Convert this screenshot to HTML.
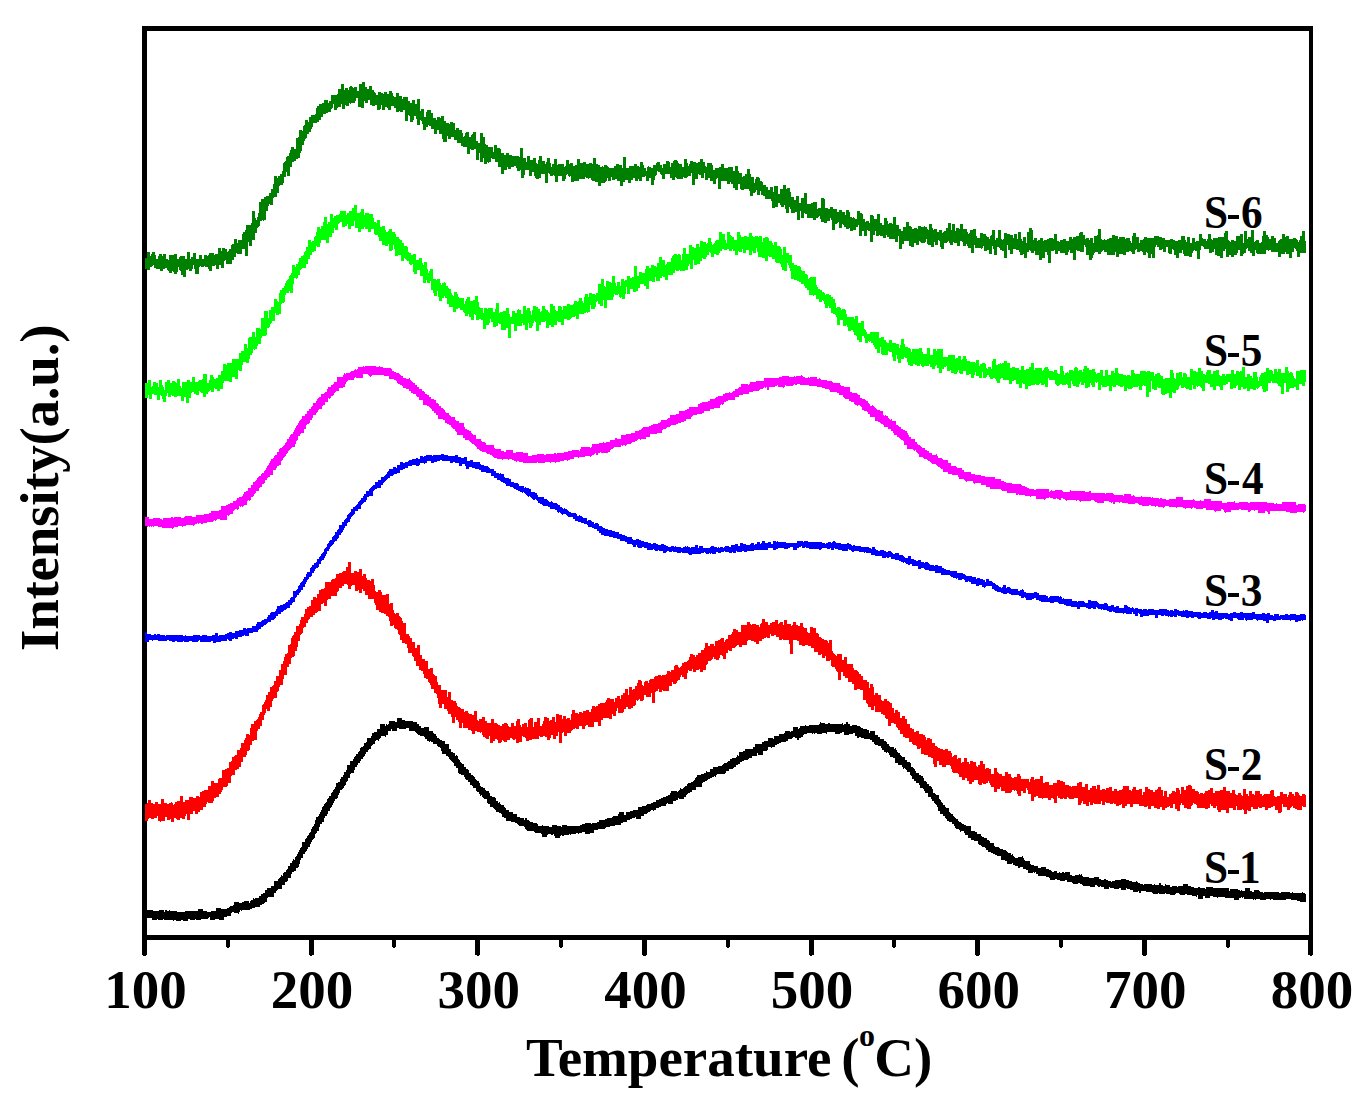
<!DOCTYPE html>
<html><head><meta charset="utf-8"><style>
html,body{margin:0;padding:0;background:#fff;}
body{width:1367px;height:1105px;overflow:hidden;position:relative;}
svg{position:absolute;left:0;top:0;}
text{font-family:"Liberation Serif",serif;font-weight:bold;fill:#000;}
</style></head><body>
<svg width="1367" height="1105" viewBox="0 0 1367 1105" shape-rendering="crispEdges">
<g fill="#000">
<rect x="142" y="26" width="1171" height="5"/>
<rect x="142" y="935" width="1171" height="5"/>
<rect x="142" y="26" width="5" height="914"/>
<rect x="1309" y="26" width="4" height="914"/>
<path d="M142.00 938V954.5L144.50 956.5L147.00 954.5V938z"/>
<path d="M225.82 938V946.5L227.82 948.5L229.82 946.5V938z"/>
<path d="M308.64 938V954.5L311.14 956.5L313.64 954.5V938z"/>
<path d="M392.46 938V946.5L394.46 948.5L396.46 946.5V938z"/>
<path d="M475.28 938V954.5L477.78 956.5L480.28 954.5V938z"/>
<path d="M559.10 938V946.5L561.10 948.5L563.10 946.5V938z"/>
<path d="M641.92 938V954.5L644.42 956.5L646.92 954.5V938z"/>
<path d="M725.74 938V946.5L727.74 948.5L729.74 946.5V938z"/>
<path d="M808.56 938V954.5L811.06 956.5L813.56 954.5V938z"/>
<path d="M892.38 938V946.5L894.38 948.5L896.38 946.5V938z"/>
<path d="M975.20 938V954.5L977.70 956.5L980.20 954.5V938z"/>
<path d="M1059.02 938V946.5L1061.02 948.5L1063.02 946.5V938z"/>
<path d="M1141.84 938V954.5L1144.34 956.5L1146.84 954.5V938z"/>
<path d="M1225.66 938V946.5L1227.66 948.5L1229.66 946.5V938z"/>
<path d="M1308.48 938V954.5L1310.98 956.5L1313.48 954.5V938z"/>
</g>
<g>
<path fill="#008000" d="M145 258h2v-6h3v4h1v-2h1v-2h3v3h1v4h2v-3h1v-2h3v2h1v-2h3v5h2v1h1v-5h5v-1h3v5h2v-2h1v-1h5v3h2v-7h3v7h1v-2h2v-4h3v6h3v-4h3v4h2v-4h3v1h1v-1h1v-2h5v2h1v-1h3v-6h3v3h1v-3h3v1h2v3h1v-1h1v-2h2v-4h1v-1h2v-5h3v4h1v-3h4v-6h1v-2h2v-2h1v-5h5v-2h1v-12h3v7h1v2h1v-3h1v-4h1v-11h2v-3h3v-2h2v-1h3v-3h2v-4h2v-5h1v-8h3v2h1v-2h2v-2h2v-3h1v-8h1v-1h1v-1h1v-4h1v-1h2v-3h1v-3h1v-3h3v2h2v-11h2v-1h1v-7h3v1h1v-5h1v-1h1v-5h3v2h1v-5h2v-2h4v-1h1v-6h1v-2h2v-2h3v-1h2v-3h4v3h1v-2h2v-6h6v-1h1v-5h3v-5h3v6h1v-2h3v2h1v-3h1v-1h2v1h1v1h1v-1h3v4h2v-7h3v-2h3v5h2v2h2v-3h3v4h2v2h1v1h1v2h2v-3h3v1h2v1h1v-2h3v2h2v-3h3v2h1v3h1v1h2v-4h3v3h3v3h1v-2h5v4h2v2h2v-3h3v4h2v-5h3v12h1v-2h3v8h2v-5h1v-2h4v3h2v5h3v2h1v-3h3v1h1v-2h3v5h2v2h3v1h1v-2h3v1h2v7h1v-2h3v2h3v3h1v4h1v-1h1v-3h1v-1h3v5h2v-2h1v-1h1v-2h3v9h2v2h2v-10h3v4h2v7h1v1h2v2h5v5h1v-7h3v3h3v1h1v4h3v2h2v-2h3v2h3v1h7v1h1v-9h3v10h3v4h1v-6h3v4h3v-2h3v5h1v1h1v-4h1v-4h3v5h3v3h1v-2h1v-4h3v5h1v4h1v-3h2v-5h3v6h1v-1h6v3h1v-1h1v-6h3v4h1v-1h3v3h2v-1h2v-6h3v4h3v-1h3v2h3v-1h3v1h1v-6h3v6h2v1h2v2h2v-1h1v1h1v-2h3v1h1v1h1v1h5v-2h2v-2h3v1h3v3h1v-11h3v11h3v-2h5v-2h3v2h2v1h1v-5h3v3h1v3h2v3h1v-4h1v-1h1v1h2v1h2v-3h3v-2h1v-1h3v3h2v3h1v-4h3v-3h3v1h1v5h1v-4h2v-2h1v-1h3v1h1v2h1v1h3v3h2v-8h3v4h1v3h1v-2h1v-3h3v1h3v1h2v-1h2v-3h3v3h2v4h1v1h1v-4h5v2h1v5h2v-2h4v-1h2v-3h3v4h4v-1h5v4h2v-5h3v5h1v2h3v4h1v-1h2v-2h2v-5h3v5h1v3h3v6h1v-4h1v-2h3v1h1v3h2v1h1v3h3v2h2v3h2v-3h3v5h1v-6h4v8h2v-5h3v-4h3v4h1v-1h3v4h1v5h3v3h2v-4h3v7h2v-5h3v-5h3v11h4v-1h2v-1h4v7h1v-1h3v-10h3v1h1v9h3v1h2v-2h3v2h4v3h2v-2h3v2h3v3h1v-5h3v2h1v5h2v1h1v-1h1v1h1v1h2v-8h3v2h2v1h1v5h2v3h1v-1h3v2h1v-8h3v1h1v3h3v-5h3v9h2v2h2v-7h3v3h1v3h1v-1h3v1h1v-7h3v8h3v4h2v2h2v-4h3v-5h3v4h2v1h1v2h2v-1h3v1h1v-3h3v1h3v-1h1v1h2v2h1v1h1v-6h3v4h1v2h1v-1h3v3h2v-2h3v3h1v-1h1v-1h2v-3h2v-5h3v7h1v-6h3v7h1v-3h3v1h1v-5h3v5h4v3h1v2h1v-1h1v-3h3v-1h3v7h1v2h3v-5h3v1h3v2h1v1h2v2h1v-3h1v-1h1v-5h3v10h1v-2h2v-8h3v9h1v1h1v-1h1v-6h3v1h3v1h3v3h1v-4h3v5h1v-7h3v7h1v2h1v-4h3v6h1v-11h2v-4h3v2h1v10h1v-2h3v3h1v-1h2v-2h3v3h1v-1h3v-1h2v-1h4v1h1v-5h3v7h2v1h1v-2h3v-1h3v2h3v-4h3v2h1v-2h3v-1h3v-3h1v-1h3v3h2v4h1v-1h3v2h1v-2h3v5h1v-7h3v-1h1v-6h3v10h1v1h2v-1h1v1h2v-1h2v-1h3v-3h3v1h3v3h1v-2h6v2h1v-1h4v3h1v2h1v-7h1v-3h3v4h3v6h1v-3h3v-1h1v-2h3v1h7v-2h5v1h3v1h3v2h5v-1h3v1h2v1h3v-1h3v-4h4v4h1v2h1v-5h3v6h2v-5h3v4h1v-1h3v-7h3v4h1v1h3v2h1v-2h1v-5h3v5h1v1h1v-2h5v-1h6v-4h1v-2h3v9h1v1h1v1h1v-2h3v1h2v-5h4v-2h3v9h1v-12h3v8h1v-2h3v-7h3v12h1v-1h1v-1h3v3h2v-1h1v-6h1v-5h3v4h2v2h1v2h2v-3h3v2h2v5h2v-2h1v-1h1v-1h2v-5h3v3h1v-1h3v3h4v-1h3v1h1v1h1v2h1v-2h1v-4h2v-5h3v10h1v12h-6v4h-3v-6h-1v-2h-1v-1h-1v4h-2v6h-3v-4h-3v-2h-1v2h-4v3h-3v-5h-7v-2h-2v1h-1v-1h-2v4h-9v-1h-1v-3h-1v6h-3v-3h-2v-2h-2v-3h-1v1h-1v4h-2v1h-1v2h-3v-6h-2v3h-1v2h-3v2h-3v-2h-2v2h-3v-8h-1v2h-2v7h-3v-2h-3v-1h-2v-6h-1v3h-2v1h-3v-4h-5v-2h-1v-1h-2v4h-1v9h-3v-8h-2v-1h-1v1h-1v2h-1v4h-3v-1h-5v-2h-1v-4h-1v3h-3v5h-3v-3h-2v-5h-1v-1h-1v5h-3v-1h-1v-6h-2v5h-3v-3h-1v1h-3v-3h-2v-2h-1v2h-1v11h-3v-4h-1v4h-3v-5h-1v-1h-1v3h-3v-3h-1v-1h-2v1h-3v-3h-1v1h-1v4h-3v-2h-1v-1h-2v1h-3v3h-3v-1h-4v3h-3v-5h-1v3h-8v-3h-3v-2h-1v1h-1v1h-1v2h-3v-2h-3v1h-1v2h-1v3h-1v2h-3v-5h-3v-8h-1v-2h-1v7h-4v-1h-3v-1h-1v10h-3v-7h-3v-3h-1v2h-1v3h-3v-2h-5v-2h-2v3h-3v-4h-1v1h-3v12h-3v-8h-1v-3h-2v6h-3v2h-3v-5h-4v-4h-1v2h-3v-2h-1v-1h-1v2h-2v6h-3v-4h-1v1h-3v-3h-1v-2h-3v-1h-3v5h-3v-4h-2v-5h-1v13h-3v-7h-2v-1h-2v-2h-1v-1h-2v8h-3v-6h-1v-3h-1v8h-3v-4h-2v1h-3v-5h-1v2h-1v1h-1v-1h-6v-3h-1v8h-3v-5h-3v-2h-1v-2h-1v2h-3v-4h-1v-1h-2v5h-3v-3h-3v-1h-1v3h-3v-2h-1v-2h-1v1h-1v1h-3v6h-3v-2h-1v-6h-1v-1h-1v5h-3v-3h-1v5h-3v-2h-3v-1h-1v-5h-1v3h-1v1h-4v-1h-1v-1h-1v4h-3v-2h-2v4h-3v-1h-2v-5h-5v3h-2v5h-3v-13h-1v6h-3v-3h-6v-2h-2v-2h-1v3h-3v-2h-3v-1h-1v1h-3v-5h-1v4h-2v7h-3v-11h-2v-1h-1v6h-3v-5h-2v5h-3v-11h-1v2h-2v3h-3v1h-3v-3h-1v1h-3v-2h-2v-2h-1v-1h-1v4h-3v-6h-1v1h-1v1h-2v6h-3v-10h-1v-2h-1v3h-3v2h-3v-1h-3v-3h-1v-3h-1v1h-1v1h-2v2h-3v-2h-6v-4h-2v-1h-1v5h-3v-7h-1v9h-3v-8h-2v1h-4v-4h-1v-2h-1v6h-3v-4h-1v-4h-1v2h-3v-2h-1v-2h-2v4h-3v1h-3v-7h-1v-2h-6v-3h-2v-1h-2v-4h-1v4h-3v-5h-1v2h-1v1h-2v3h-3v-5h-1v-2h-5v1h-3v-1h-1v-5h-2v6h-3v-2h-2v-4h-2v-2h-1v2h-3v-3h-6v8h-3v-11h-1v1h-1v5h-3v-3h-3v-3h-2v2h-3v-7h-1v5h-3v-3h-2v-1h-1v5h-3v6h-3v-12h-1v3h-3v1h-1v1h-3v-1h-1v2h-6v-1h-1v-1h-1v3h-3v-2h-2v-4h-5v5h-3v-4h-1v-1h-1v-2h-2v-1h-1v4h-1v1h-1v4h-1v5h-3v-7h-2v3h-3v-5h-1v1h-3v4h-3v-2h-1v2h-3v-3h-2v2h-2v3h-3v-3h-3v2h-2v4h-3v-5h-3v-2h-2v1h-3v-3h-1v4h-3v-3h-1v3h-1v1h-1v1h-4v3h-3v-4h-3v-1h-3v-1h-1v-2h-2v1h-1v-1h-2v-1h-1v2h-6v2h-5v1h-3v-6h-1v1h-1v-1h-1v-2h-1v1h-1v4h-1v2h-3v-5h-4v6h-3v-6h-1v-1h-1v1h-3v-2h-1v-1h-1v10h-3v-9h-4v4h-2v1h-3v-1h-1v-2h-1v-4h-2v4h-3v-6h-4v5h-1v3h-3v-8h-1v1h-3v-3h-1v-2h-2v1h-3v2h-3v-2h-1v3h-3v4h-3v-7h-3v-5h-3v-3h-3v-1h-1v4h-2v1h-1v-1h-1v2h-3v-6h-1v4h-3v-9h-1v7h-3v-11h-2v1h-3v-1h-1v5h-3v-7h-4v-1h-2v-3h-4v-3h-3v-3h-3v2h-3v-3h-1v6h-4v-3h-1v-5h-3v-4h-2v4h-3v-5h-3v-3h-2v-1h-1v2h-2v3h-3v-6h-1v-3h-1v-1h-1v5h-3v-6h-1v-3h-2v4h-1v2h-3v-6h-1v-1h-1v6h-3v-11h-2v2h-3v-1h-1v1h-3v-4h-2v-2h-3v4h-3v-2h-1v-1h-2v3h-3v-5h-1v4h-1v1h-3v-5h-2v1h-3v-1h-2v-5h-2v3h-3v-2h-1v7h-3v-1h-3v-9h-2v3h-1v2h-4v1h-1v-1h-1v3h-3v-1h-1v4h-3v-5h-1v3h-3v1h-1v2h-3v-6h-1v4h-1v1h-1v3h-3v1h-2v1h-3v3h-2v3h-2v2h-2v1h-4v4h-1v2h-1v3h-2v2h-2v4h-1v1h-1v2h-1v4h-2v6h-1v2h-1v5h-2v1h-2v2h-2v1h-2v5h-2v9h-3v-4h-1v5h-2v6h-1v2h-3v1h-1v7h-2v4h-3v1h-1v7h-3v-1h-1v2h-1v5h-2v9h-2v1h-1v-1h-1v1h-2v5h-1v1h-1v1h-1v5h-2v7h-3v6h-3v-4h-1v14h-3v-7h-3v5h-5v-1h-1v4h-2v3h-2v4h-6v-4h-1v1h-1v7h-3v-3h-2v4h-3v-4h-1v1h-3v5h-3v-2h-1v-2h-3v-1h-1v1h-3v-1h-1v1h-1v7h-4v-5h-1v-4h-1v4h-1v2h-3v-2h-1v1h-2v7h-3v-2h-2v-4h-1v-1h-1v-3h-1v5h-1v2h-3v-2h-1v-1h-1v2h-3v-2h-1v-1h-1v-2h-2v1h-2v2h-3v-2h-4v-1h-2v-3h-1v1h-1v1h-2v3h-3v-1h-2z"/>
<path fill="#00ff00" d="M145 383h3v-3h3v7h1v-1h1v-4h3v1h2v4h1v-7h3v5h1v2h1v3h1v-8h2v-2h3v3h2v-2h3v1h1v1h1v-4h3v7h1v2h1v-6h5v-2h3v2h2v-5h3v5h3v-1h1v-1h3v-1h1v-5h4v9h2v-3h1v-5h3v2h1v2h2v-1h2v-3h3v-4h2v-7h3v1h1v-2h5v-4h7v-6h2v-2h3v-7h3v4h1v-10h1v-1h3v-5h3v5h1v-9h4v1h1v-11h3v-7h4v7h1v-8h2v-3h3v-8h3v2h1v1h1v-9h1v-3h2v-2h2v-2h1v-3h1v-2h1v-1h1v-1h1v-3h1v-1h1v-2h1v-8h3v2h1v-3h2v-2h1v-4h2v-2h2v-1h1v-3h1v-1h1v-4h2v-7h3v2h1v-1h2v-4h1v-1h1v-4h1v-5h3v2h1v-3h2v-4h1v-5h3v7h1v-2h2v-8h3v4h1v-2h2v-1h3v-1h1v-3h6v4h1v-2h2v-2h3v-3h2v-3h3v8h3v-1h1v-3h3v6h1v-2h4v1h4v4h1v4h2v1h1v-3h3v7h2v-1h3v4h1v2h2v-1h1v-2h3v3h3v2h1v3h3v2h1v1h2v3h2v3h3v1h1v5h1v1h2v2h2v-1h3v6h3v-2h3v5h1v2h1v-3h3v7h1v4h1v-2h1v-2h3v10h3v1h1v-1h3v4h1v2h1v-2h2v-1h1v1h1v3h2v2h1v1h2v4h1v2h1v1h1v-4h3v2h1v3h1v1h5v6h1v-3h1v-2h1v-2h3v4h3v-1h2v-4h3v6h1v5h1v1h3v5h1v-5h3v1h1v-1h5v4h2v-3h1v-6h3v10h1v-1h3v-1h3v-3h3v6h1v3h2v-6h3v2h2v-3h1v-1h1v1h2v4h2v-8h3v4h1v-2h3v3h1v4h1v-5h1v-4h3v1h2v2h2v3h1v-1h1v-5h3v3h1v1h2v2h1v1h1v-9h3v2h2v4h1v1h2v-5h3v1h1v3h1v-4h4v-2h3v1h3v-1h1v-3h3v1h1v-1h1v-3h3v3h1v2h1v-6h1v-3h3v3h1v-4h3v1h3v1h1v-2h2v-9h3v-5h3v7h1v1h1v-6h3v1h2v1h1v-7h3v7h1v3h1v-4h3v4h1v-7h3v2h1v-1h2v-4h3v2h2v-1h2v-11h3v10h2v-4h3v1h3v-4h1v-3h3v2h2v-3h3v1h2v1h1v-4h2v-6h3v3h3v5h1v-1h1v-2h4v-4h1v-2h1v-1h1v-1h3v1h1v-1h2v1h1v5h1v-6h1v-6h3v6h3v-9h3v2h2v1h2v-4h3v3h1v-6h3v1h3v2h1v-1h1v-5h3v4h1v3h1v-1h1v-1h1v-2h1v-1h3v-8h3v2h3v6h1v3h1v-11h3v3h1v1h1v1h2v3h3v-8h3v3h1v2h3v-1h3v1h2v-4h3v3h1v1h2v-1h3v1h1v-1h3v6h1v-4h2v-1h3v1h1v3h3v2h1v2h1v-3h3v4h3v1h1v2h1v6h1v-8h3v6h3v2h3v8h2v2h3v1h3v1h1v3h1v1h3v3h2v1h1v4h1v-1h1v-1h6v8h1v2h1v2h2v1h2v2h2v1h1v2h1v-1h3v1h2v2h2v2h2v4h1v5h1v-1h3v1h1v2h1v-1h3v1h1v4h1v3h7v2h1v-3h3v7h3v-2h3v8h1v1h1v2h1v2h3v-2h9v6h2v-1h3v3h2v2h1v1h2v-3h3v3h4v1h3v4h1v-3h1v-6h3v5h1v3h3v1h2v1h1v3h1v-3h7v-1h3v4h1v2h4v-6h3v7h3v-6h3v2h1v-2h6v8h5v-2h7v4h1v-1h2v-2h3v4h1v-1h1v-3h3v3h1v2h3v1h5v1h1v-3h3v6h1v-2h2v-1h3v1h1v4h1v1h1v-2h3v2h1v-8h1v-2h3v6h2v-1h2v-1h1v1h1v-1h2v-2h3v2h3v5h2v-1h3v1h4v2h2v-4h3v4h2v-1h3v-2h2v-4h3v7h1v-2h7v3h1v-1h1v-2h1v-1h3v2h1v2h4v1h1v-2h3v3h1v1h2v-8h3v5h1v4h1v-2h2v-1h1v1h1v-3h4v1h1v-3h1v-1h2v1h1v3h1v-1h3v2h1v-3h1v-3h3v2h2v2h3v-1h3v3h1v2h1v-1h3v-3h3v6h2v-6h3v5h3v-4h3v2h1v-5h3v5h1v1h4v1h3v1h1v-1h3v1h1v-6h3v3h1v1h5v-3h6v1h1v-1h3v1h4v4h1v-2h2v-1h3v2h1v1h2v3h2v-1h5v-8h3v3h1v5h1v1h1v-6h3v-1h3v5h1v-4h3v1h1v3h3v-8h3v2h3v1h2v-4h3v3h2v3h2v1h1v-3h1v-2h4v4h2v-3h3v-1h3v5h1v1h2v-2h3v2h1v-2h5v-4h3v4h2v-3h3v1h1v-1h2v-4h3v10h2v-3h3v2h2v2h1v-6h4v5h1v4h1v-4h1v-2h1v-2h3v-1h2v-4h3v2h3v1h1v3h1v-5h3v3h1v-3h3v4h4v-6h3v4h1v2h1v-1h2v1h1v3h1v2h1v1h1v-8h4v-1h6v12h-1v4h-3v-2h-3v6h-3v-3h-2v1h-4v1h-1v3h-3v-9h-2v11h-3v-7h-1v-1h-2v-2h-1v-1h-5v-2h-1v2h-3v8h-2v1h-3v-3h-1v-3h-2v1h-1v1h-1v1h-1v-1h-1v2h-3v-1h-3v2h-3v-3h-1v1h-3v-2h-2v3h-3v-5h-1v1h-1v2h-3v1h-3v-7h-2v2h-2v1h-3v5h-3v-3h-1v-1h-3v4h-3v-3h-3v-3h-2v-1h-3v8h-3v-3h-1v-1h-1v-1h-2v1h-1v-1h-1v3h-3v-4h-1v5h-3v-1h-3v-1h-1v-1h-1v1h-3v-3h-1v1h-1v3h-1v1h-2v3h-3v-1h-1v6h-3v-5h-2v1h-2v1h-3v-1h-1v-6h-3v-1h-1v3h-3v-1h-2v-8h-1v11h-2v5h-3v-11h-2v-1h-1v1h-1v4h-3v-4h-1v1h-5v1h-1v1h-4v-1h-1v3h-3v-5h-1v1h-3v-1h-2v-1h-2v2h-3v-1h-1v5h-3v-5h-2v1h-5v-2h-1v5h-3v-8h-1v1h-1v-1h-1v5h-3v-2h-1v-2h-1v4h-2v1h-3v-5h-1v2h-3v-3h-1v2h-1v3h-3v-1h-3v-2h-1v-3h-1v7h-3v-3h-1v-1h-1v1h-4v-1h-2v1h-1v1h-2v-1h-1v-1h-1v-4h-6v-2h-1v9h-3v-3h-1v1h-3v-2h-1v1h-1v1h-3v-1h-1v1h-4v1h-3v3h-3v-5h-2v-1h-1v5h-3v-4h-3v-4h-2v1h-2v3h-3v-4h-6v-2h-2v1h-1v4h-3v-2h-1v-2h-1v-1h-2v1h-3v-2h-1v-2h-2v2h-1v1h-3v-6h-1v6h-3v-2h-3v-4h-1v3h-1v3h-3v-4h-2v1h-3v-4h-3v3h-3v-1h-1v-3h-1v2h-1v2h-3v-1h-3v-3h-1v1h-3v-5h-1v1h-2v2h-2v4h-3v-5h-2v-3h-1v1h-1v3h-3v-2h-2v-3h-1v2h-5v1h-2v-1h-1v-2h-1v2h-3v-1h-2v-1h-2v2h-3v-1h-2v-3h-1v-4h-2v-1h-1v2h-3v4h-3v-4h-1v-4h-1v6h-3v-4h-1v-5h-3v-1h-1v4h-6v-1h-1v-7h-1v6h-3v-4h-2v-2h-1v-2h-1v-2h-2v-2h-1v1h-1v-1h-1v2h-3v-5h-1v-2h-2v6h-3v-2h-2v-4h-1v-1h-2v-3h-1v-2h-2v1h-3v-4h-1v-2h-1v1h-3v-6h-3v5h-3v-8h-1v-2h-1v-1h-2v-1h-2v-5h-2v-2h-1v2h-3v-4h-1v-3h-1v-1h-1v2h-3v-3h-3v-4h-2v1h-1v-1h-4v-5h-2v-2h-2v-2h-1v-2h-3v-2h-2v-1h-2v-1h-3v-1h-3v-8h-1v-3h-1v-3h-1v-2h-1v8h-3v-1h-2v-3h-1v-3h-1v-1h-4v-1h-1v-3h-3v-2h-3v-1h-1v5h-3v-3h-3v-1h-4v-5h-1v-4h-1v5h-3v-2h-1v4h-3v-5h-3v3h-3v-4h-1v3h-3v-1h-1v4h-3v-4h-2v-2h-1v2h-3v-2h-2v1h-3v-1h-2v2h-2v2h-1v2h-3v-1h-2v3h-3v-4h-1v-1h-1v3h-2v2h-1v2h-3v-1h-1v3h-2v3h-3v1h-3v-5h-1v9h-3v-5h-1v2h-1v4h-3v1h-5v-1h-1v1h-3v-1h-1v3h-2v2h-5v5h-3v-3h-2v-1h-1v2h-2v3h-4v-4h-1v5h-3v-1h-3v8h-3v-3h-2v-2h-4v4h-2v3h-2v1h-3v-3h-3v5h-3v-7h-1v7h-1v5h-3v-2h-1v1h-1v-1h-1v-3h-1v1h-3v-1h-1v3h-1v3h-6v8h-3v-8h-1v6h-3v-2h-2v-3h-1v1h-1v5h-1v2h-4v-4h-1v7h-2v1h-1v-1h-1v1h-2v1h-5v5h-3v-3h-1v1h-3v1h-1v1h-1v1h-3v-1h-3v6h-3v-3h-3v-1h-1v4h-3v2h-3v-2h-2v3h-3v-7h-1v1h-4v3h-2v6h-3v-9h-1v-1h-1v2h-1v3h-1v2h-3v-5h-1v7h-3v-5h-2v-2h-1v3h-5v5h-3v-7h-3v14h-3v-10h-2v2h-5v-6h-2v-1h-1v3h-2v1h-3v-5h-2v-3h-1v4h-1v2h-3v4h-3v-9h-2v-1h-2v1h-3v-5h-1v-1h-1v6h-3v-3h-2v-3h-1v2h-3v-3h-1v-1h-1v-2h-3v-2h-2v1h-2v3h-3v-5h-4v-3h-2v-6h-2v-2h-1v2h-2v3h-3v-4h-1v-6h-1v5h-3v-3h-1v-3h-2v-9h-1v2h-3v-3h-1v3h-3v-7h-3v-6h-3v4h-3v-2h-1v-8h-1v1h-2v-1h-1v-3h-2v-1h-1v-1h-1v-1h-1v3h-3v-6h-3v1h-3v-7h-1v-4h-1v5h-1v1h-3v-7h-1v2h-3v-1h-3v-4h-3v-4h-1v-2h-3v-1h-1v-5h-3v3h-3v-3h-3v-2h-1v2h-3v3h-3v-4h-3v-7h-1v5h-3v3h-3v-5h-1v2h-2v1h-3v-5h-2v1h-1v1h-1v6h-3v-2h-1v5h-2v4h-3v6h-3v-3h-5v3h-1v4h-3v-1h-1v5h-2v1h-2v3h-2v4h-2v5h-2v4h-4v1h-1v1h-1v5h-2v3h-1v1h-1v-1h-2v6h-1v9h-3v-2h-1v2h-3v2h-1v7h-1v1h-2v1h-1v10h-2v1h-3v-2h-1v8h-3v2h-1v1h-1v3h-1v1h-2v7h-1v1h-4v2h-1v6h-3v2h-1v3h-2v1h-1v-1h-1v4h-1v2h-2v4h-1v4h-3v-1h-3v3h-1v6h-3v-1h-1v9h-3v-2h-3v5h-3v-1h-5v2h-1v6h-3v2h-3v-2h-2v-1h-1v4h-3v-2h-1v1h-1v1h-1v2h-2v3h-3v-4h-2v-1h-1v-1h-1v4h-3v-1h-2v-2h-2v1h-1v5h-2v5h-3v-6h-2v4h-3v-5h-4v1h-3v-1h-2v-1h-1v2h-3v-4h-1v3h-1v6h-3v-3h-1v-3h-1v-1h-1v5h-3v-5h-3v-1h-2v5h-3v-4h-1v3h-3z"/>
<path fill="#ff00ff" d="M145 517h4v2h4v-1h7v1h2v1h1v-2h8v-1h2v1h1v-1h7v1h3v-1h1v-1h7v1h4v-2h8v-1h5v-1h2v-2h8v-1h2v-4h5v-1h2v-1h2v-1h3v-2h3v-1h1v-2h2v-1h3v-1h1v-2h1v-2h2v-1h2v-3h3v-3h2v-3h2v-1h1v-1h1v-2h1v-1h1v-1h2v-2h1v-1h2v-2h1v-1h1v-2h1v-2h1v-1h1v-2h1v-2h1v-2h2v-1h1v-2h1v-1h2v-3h2v-3h1v-1h2v-1h1v-1h1v-1h1v-2h1v-1h1v-3h2v-2h1v-2h1v-1h2v-2h1v-2h1v-2h1v-2h1v-1h1v-2h1v-2h1v-1h1v-1h1v-3h3v-2h2v-3h2v-2h2v-2h1v-1h1v-3h3v-2h1v-2h1v-1h1v-1h2v-3h3v-1h1v-1h2v-3h1v-2h3v-2h2v-1h1v-2h3v-5h6v-2h1v-2h1v1h1v-1h4v-1h1v-1h3v-1h1v-1h1v1h1v-1h1v-2h5v-1h1v1h1v-1h11v1h3v-1h1v1h3v1h8v1h1v2h2v1h2v1h3v1h1v1h1v1h2v2h3v1h3v-1h1v2h1v1h1v1h1v1h2v2h2v2h2v2h3v2h2v1h1v2h2v1h2v2h2v2h3v1h2v3h2v1h1v2h2v2h2v1h1v1h1v2h1v1h3v2h1v1h1v1h4v3h1v1h3v2h5v4h1v2h2v1h2v1h2v2h1v1h1v1h3v4h5v2h1v1h3v1h1v2h8v3h1v1h6v2h3v1h2v-2h7v3h3v-1h7v1h5v3h4v-1h5v-1h7v1h2v-1h8v-1h2v1h1v-1h7v-1h4v-1h4v-1h7v1h1v-2h1v-2h9v1h1v-1h1v-3h7v-1h4v-1h1v1h2v-1h4v-2h5v-2h2v1h4v-4h5v-1h5v-1h4v-2h4v-1h2v-1h1v-1h1v-1h6v-1h2v-1h2v-1h5v-1h2v-1h1v-2h6v-1h1v-1h2v-3h6v-1h3v-3h6v-1h2v-1h2v-2h9v-3h2v-1h2v-1h6v-1h2v-2h5v-1h1v-1h2v-1h5v-2h2v-1h4v-1h1v1h2v-1h1v-1h2v-2h3v-1h1v-1h2v-3h7v1h1v-1h1v-2h6v-1h8v-3h15v-1h3v-1h7v1h5v-1h1v1h1v-1h5v-1h1v1h1v1h2v1h3v-1h1v1h1v-1h7v2h2v-1h1v1h1v1h6v1h5v1h1v1h7v2h1v1h3v1h6v5h2v1h5v1h1v1h2v3h2v1h3v1h1v1h2v2h1v1h1v2h2v-1h1v1h1v1h1v1h1v1h1v1h3v1h3v4h1v1h1v-1h1v1h2v2h1v1h1v1h1v-1h1v2h4v4h2v1h1v1h2v2h2v1h2v1h2v2h1v2h1v2h2v2h4v3h2v2h1v1h2v1h1v1h1v1h3v2h2v1h2v2h3v2h4v-1h1v2h1v2h4v1h1v1h5v3h3v3h5v1h1v1h5v2h2v2h7v2h4v1h6v1h4v1h10v2h6v2h3v1h2v1h6v1h9v1h1v1h3v1h2v1h2v1h5v1h2v-1h13v3h1v-1h1v-1h1v1h3v-1h7v1h1v1h7v-2h1v1h14v1h4v-1h2v2h14v1h1v-1h7v1h1v1h9v1h1v-2h7v2h2v-1h1v1h1v1h6v-1h1v1h9v1h1v-1h1v1h6v1h1v-1h2v1h4v1h3v-1h7v-2h7v3h10v-1h1v1h1v1h5v-1h1v1h3v-2h7v2h11v2h5v-1h7v-1h1v2h4v-1h9v1h2v-1h17v1h7v1h2v-1h1v1h5v-2h14v3h2v-1h7v1h1v6h-1v1h-1v1h-1v-1h-6v1h-7v-1h-4v-1h-16v3h-2v-2h-1v-1h-2v2h-7v-3h-3v1h-1v-1h-3v1h-1v1h-2v-2h-7v-1h-2v1h-8v2h-5v1h-1v-1h-1v-2h-1v-1h-2v2h-5v1h-1v-1h-1v-1h-8v-2h-3v1h-7v-1h-2v-1h-1v1h-1v1h-1v-1h-5v1h-1v-1h-2v-1h-6v1h-1v-1h-7v-1h-4v1h-1v1h-1v-1h-5v-1h-2v1h-1v-1h-4v-1h-2v1h-7v-1h-3v-1h-1v-1h-3v1h-7v-1h-6v-1h-2v1h-1v-1h-4v2h-2v-2h-1v1h-1v-1h-2v-1h-5v2h-7v-1h-2v-1h-1v-1h-3v1h-10v1h-1v-1h-1v-1h-2v1h-1v-1h-9v1h-1v-1h-1v-1h-2v-1h-2v2h-2v-1h-2v-1h-1v1h-3v-1h-3v-1h-1v1h-3v1h-1v1h-1v-1h-8v-3h-5v1h-1v-1h-5v-1h-6v-1h-1v1h-2v-2h-9v-2h-5v-1h-1v-1h-11v-2h-4v-2h-5v-2h-6v1h-1v-1h-1v-2h-6v1h-1v-1h-1v-1h-1v-1h-5v-2h-1v-2h-6v-1h-4v-2h-5v-3h-2v-1h-1v-1h-2v-1h-1v-1h-1v-1h-4v-1h-1v-1h-1v-1h-2v-1h-1v-1h-3v-1h-1v-1h-4v-3h-1v-1h-1v-1h-1v-2h-1v1h-1v-1h-1v-1h-6v-4h-3v-4h-1v-1h-2v-1h-1v-1h-1v-1h-2v-2h-3v-2h-1v-2h-2v-2h-3v-2h-4v-2h-1v-1h-2v-1h-1v-1h-2v-1h-3v-4h-5v-3h-2v-2h-1v-1h-3v-1h-2v-3h-1v-1h-1v-1h-2v1h-1v-1h-2v-1h-1v-2h-3v-1h-2v-2h-4v-1h-1v-1h-1v-2h-4v-2h-2v-1h-7v-2h-1v-1h-4v-1h-3v-1h-5v-1h-8v-1h-9v-1h-3v1h-2v-1h-1v1h-1v1h-7v-1h-1v2h-1v1h-1v-1h-5v-2h-1v1h-2v1h-6v3h-2v-3h-1v1h-1v-1h-1v1h-1v1h-3v1h-1v1h-6v1h-4v2h-6v1h-4v2h-4v3h-7v1h-2v1h-2v2h-1v1h-1v-1h-1v1h-1v3h-6v1h-4v2h-6v2h-2v1h-5v1h-4v1h-1v1h-1v2h-5v2h-2v1h-3v1h-3v1h-2v1h-5v1h-1v1h-3v1h-1v1h-3v1h-1v3h-5v1h-7v3h-4v2h-5v1h-1v-1h-2v1h-1v1h-2v1h-3v1h-1v1h-4v1h-1v1h-1v-1h-2v1h-1v-1h-1v2h-7v1h-1v1h-2v1h-1v2h-2v1h-7v-1h-1v1h-2v2h-2v-2h-1v1h-1v1h-2v1h-1v1h-1v-1h-5v1h-6v1h-1v-1h-4v2h-4v1h-2v1h-1v-1h-3v1h-4v1h-4v1h-1v-1h-4v1h-1v-1h-5v1h-7v-1h-1v1h-14v-1h-4v-1h-2v1h-1v-1h-2v-1h-2v-1h-3v1h-1v-1h-5v1h-1v-1h-5v-1h-3v-1h-1v-1h-1v-1h-2v-1h-3v-1h-1v-1h-4v-1h-2v-1h-1v-1h-2v-2h-1v-1h-1v-1h-1v-1h-2v-1h-1v-1h-1v-1h-1v-1h-4v-2h-2v-3h-6v-3h-1v-1h-1v-2h-2v-1h-1v-1h-1v-2h-2v-1h-2v-1h-2v-3h-2v-1h-5v-4h-2v-2h-2v-2h-2v-2h-1v-1h-1v-1h-1v-1h-2v-1h-4v-5h-4v-3h-2v-1h-1v-2h-3v-1h-2v-2h-2v-2h-3v-1h-3v-2h-1v-1h-2v-1h-2v-1h-1v-2h-1v-1h-2v-1h-5v-3h-5v-1h-12v1h-1v1h-1v-1h-1v-1h-1v-1h-5v4h-7v-1h-1v1h-1v2h-6v1h-1v1h-1v2h-1v3h-2v1h-4v3h-3v1h-1v1h-1v2h-1v1h-2v2h-1v1h-1v-1h-1v4h-3v3h-2v1h-1v3h-3v1h-1v2h-1v1h-1v2h-3v3h-1v2h-2v3h-1v1h-2v1h-1v4h-2v4h-3v1h-1v2h-2v4h-1v1h-1v3h-1v3h-3v1h-1v1h-1v1h-1v1h-1v2h-1v1h-1v2h-1v1h-1v1h-1v2h-1v1h-1v4h-2v1h-2v2h-1v2h-3v5h-3v2h-2v1h-1v2h-2v3h-1v1h-2v3h-2v1h-1v3h-3v2h-1v1h-1v2h-1v1h-2v3h-1v1h-1v-1h-1v1h-1v4h-3v1h-1v1h-1v-1h-1v1h-1v-1h-1v3h-1v1h-1v-1h-2v1h-1v1h-1v3h-3v1h-1v1h-1v-1h-1v5h-7v-1h-3v1h-1v1h-1v-1h-1v1h-1v1h-6v1h-4v1h-2v-1h-2v1h-1v-1h-1v1h-2v1h-1v1h-1v-1h-7v1h-3v1h-1v-1h-4v1h-4v1h-1v1h-1v-1h-10v-1h-4v-1h-4v1h-1v-1h-1v1h-1v-1h-1v1h-1v-1h-1v1h-1v-1h-2z"/>
<path fill="#0000ff" d="M145 632h2v2h4v1h3v-1h2v1h1v-1h3v1h5v1h1v-1h17v1h2v-1h1v1h7v-1h7v1h2v-1h5v1h5v-1h3v-2h3v3h1v-1h6v-1h2v-1h2v-1h3v1h3v-2h4v-1h4v-2h3v1h1v-1h5v-2h4v-2h1v-2h4v-1h1v-1h2v-1h3v-2h1v-2h2v-2h1v-1h4v-1h1v-2h1v-3h3v-1h3v-1h2v-1h1v-1h2v-2h2v-2h1v-1h2v-6h3v-1h1v-1h1v-3h1v-1h1v-2h1v-1h1v-1h1v-2h1v-2h2v-3h1v-2h3v-4h1v-1h1v-2h2v-2h2v-1h1v-3h2v-2h1v-1h1v-2h1v-1h1v-1h1v-3h1v-1h1v-1h1v-3h1v-1h1v-2h1v-1h2v-3h1v-1h1v-1h1v-3h2v-2h1v-1h1v-4h3v-3h2v-2h1v-1h1v-1h1v-3h1v-1h1v-1h1v-1h1v-3h2v-2h2v-1h1v-1h1v-1h1v-2h1v-1h1v-1h1v-2h2v-2h1v-2h2v-3h3v-2h1v-1h1v-1h1v-1h1v-1h2v-3h3v-2h3v-3h3v-1h1v-1h1v-1h1v-2h1v-1h1v-2h4v-2h3v1h1v-3h3v-3h3v1h2v-1h3v-1h1v-1h3v-1h4v-1h2v1h2v-3h3v1h1v-1h2v-1h6v1h1v-1h8v-1h3v1h4v1h7v-1h3v2h3v1h3v-1h3v4h3v-1h3v2h7v2h1v1h3v1h4v1h1v1h1v1h4v2h2v2h3v1h1v-1h1v1h3v3h1v1h4v1h2v3h3v1h4v1h1v2h5v2h1v-1h1v1h3v1h2v3h4v1h2v2h1v2h6v2h3v1h1v1h1v1h2v-1h1v1h1v1h4v1h1v1h2v2h2v1h1v1h1v-1h1v1h2v1h1v1h1v1h2v1h5v1h1v2h2v-1h1v1h2v1h1v1h4v3h1v-1h3v1h1v1h2v2h1v-1h3v1h1v2h3v1h1v1h2v1h3v1h4v1h3v1h4v2h3v1h3v1h2v1h5v2h1v1h3v-1h3v1h2v1h3v1h4v1h3v1h2v-1h3v1h2v1h3v-1h3v1h2v1h2v1h3v-1h3v1h1v-1h1v1h5v1h2v-1h2v-1h1v1h1v-1h1v1h2v1h1v-1h4v-2h3v3h1v-2h4v2h7v-1h1v-1h3v1h3v1h1v-1h1v1h1v-1h3v1h1v-1h1v-1h4v1h2v-2h4v-1h3v2h2v-3h3v1h3v1h4v-1h1v-1h3v2h1v-1h2v-2h3v2h1v-1h1v-2h3v2h3v-1h3v2h2v-3h3v1h1v-1h1v1h8v1h11v-2h6v1h1v-1h4v1h14v1h3v1h1v-1h2v-1h3v1h1v-1h1v-1h2v1h1v1h5v1h6v-1h2v1h2v1h1v1h1v-1h2v1h6v1h8v1h2v1h1v-2h3v2h1v1h2v1h2v-1h4v1h2v1h2v-1h3v1h1v1h1v1h2v-1h4v2h4v1h1v1h1v1h3v-2h3v3h3v1h2v1h2v-1h3v2h3v1h1v-1h3v1h1v1h1v1h4v1h1v-1h3v1h4v2h2v1h2v1h4v1h7v2h6v1h2v1h1v1h6v1h4v2h1v-1h3v1h3v1h2v2h1v-3h3v2h3v1h1v1h2v1h1v1h2v1h1v1h2v1h1v-1h1v-2h3v3h1v-1h3v1h1v1h7v2h2v-1h2v-1h1v1h1v2h2v1h8v-1h3v1h2v2h7v1h2v2h1v-1h1v-1h9v1h1v-1h1v1h1v2h1v-1h1v1h8v2h5v1h1v-1h6v1h1v1h3v-3h3v1h6v1h1v1h1v1h5v-1h3v1h1v2h3v-1h3v2h2v-1h3v2h5v-3h3v1h1v1h2v1h2v-1h1v1h1v1h1v-1h3v1h4v1h1v-1h4v1h1v-1h6v1h5v-1h8v1h2v1h1v-1h3v1h1v-2h3v1h2v1h4v-1h1v1h1v-1h3v1h5v1h8v1h2v-1h4v1h2v-1h2v-2h3v2h1v-1h3v2h10v1h2v-1h3v-1h3v1h4v-1h3v1h9v-1h3v2h7v-1h3v1h2v-1h3v2h3v1h1v-2h5v2h1v-1h5v-1h3v1h2v-1h6v1h4v-1h5v1h1v5h-3v1h-1v-1h-1v1h-3v1h-3v-2h-4v1h-1v-1h-8v-1h-1v1h-5v1h-3v-1h-4v3h-3v-2h-3v-1h-5v1h-1v-1h-1v-1h-3v1h-6v1h-1v-1h-1v-2h-1v2h-6v-1h-1v-1h-4v3h-3v-1h-2v-1h-3v-1h-1v1h-2v1h-4v-1h-3v1h-3v-2h-1v1h-4v-1h-6v1h-3v-1h-1v-1h-3v1h-3v-1h-2v1h-3v-1h-5v-1h-3v-1h-1v2h-3v-1h-1v1h-3v-1h-1v1h-1v-1h-3v-1h-1v1h-3v-1h-3v3h-3v-3h-6v1h-6v1h-3v-3h-1v-1h-1v3h-3v-2h-2v-2h-1v2h-6v-1h-2v1h-1v-1h-8v-1h-2v-1h-1v1h-3v-1h-2v-1h-4v-1h-1v1h-1v-1h-3v-1h-1v-1h-1v2h-3v-1h-2v1h-3v-1h-2v-1h-6v2h-3v-2h-6v-1h-5v-1h-2v-1h-5v-1h-1v-1h-4v1h-4v-1h-9v-1h-2v-1h-3v-2h-2v1h-2v1h-6v-2h-1v-1h-1v1h-3v-2h-2v-1h-8v-1h-2v-1h-2v1h-4v-1h-2v-1h-4v-1h-2v-1h-1v-1h-2v-3h-6v1h-1v1h-1v-1h-2v-2h-3v1h-3v-2h-5v-2h-2v-1h-1v1h-3v-2h-1v-1h-2v1h-4v-2h-1v1h-1v-1h-3v-1h-2v-1h-1v-1h-9v-2h-6v-2h-6v-1h-4v-1h-1v-1h-3v1h-3v-3h-6v-2h-2v1h-2v-1h-2v-1h-1v-1h-1v1h-1v-1h-2v-1h-2v-1h-4v-1h-4v-2h-2v1h-2v-1h-1v1h-4v-2h-7v-1h-4v-2h-5v-1h-1v1h-1v-1h-5v-1h-5v1h-2v-1h-1v-1h-2v-1h-1v2h-6v-1h-4v-1h-3v-1h-1v2h-3v-2h-1v1h-3v-1h-5v1h-1v1h-2v-1h-10v-1h-3v-1h-1v1h-3v-2h-1v1h-2v1h-2v2h-4v-3h-3v1h-2v1h-4v-1h-6v1h-2v1h-3v-2h-5v2h-14v1h-7v1h-3v-1h-2v1h-5v-1h-1v2h-3v-1h-1v1h-3v-1h-4v-1h-1v1h-3v1h-3v-1h-2v2h-4v-1h-1v1h-1v-1h-1v1h-3v-1h-1v-1h-1v1h-3v1h-9v1h-3v-1h-1v-1h-6v-1h-1v1h-4v-1h-4v-1h-1v1h-3v-1h-2v1h-1v1h-3v-2h-4v-1h-1v1h-3v-1h-1v-1h-1v1h-6v-2h-3v-1h-2v1h-4v-1h-1v-2h-1v2h-3v-2h-1v-1h-5v-2h-2v-1h-5v-2h-3v-1h-4v-1h-4v-1h-5v-1h-3v-2h-2v-2h-2v-2h-3v-1h-2v-1h-4v-2h-1v-1h-3v-1h-3v-1h-3v-1h-3v-2h-2v-2h-5v-1h-1v-1h-1v-1h-3v1h-1v-1h-1v-1h-1v-1h-1v1h-1v-1h-1v-2h-2v-1h-5v-2h-2v-1h-5v-1h-1v-1h-2v-1h-2v-2h-1v-1h-1v-1h-1v1h-2v-1h-1v-1h-1v-1h-1v-1h-1v1h-1v-1h-1v-1h-1v-1h-1v-1h-1v-1h-1v1h-1v-1h-2v-1h-2v-1h-2v-1h-2v-1h-1v-1h-3v-1h-4v-2h-1v-1h-2v-1h-2v-1h-1v-1h-3v-2h-3v-2h-3v-3h-5v-1h-5v-2h-2v-1h-4v-1h-3v-1h-3v2h-3v-3h-1v-2h-3v2h-3v-3h-4v-1h-2v1h-3v-2h-8v-1h-2v1h-3v1h-3v1h-3v-2h-4v2h-2v1h-1v-1h-4v2h-1v1h-3v-1h-4v1h-4v2h-3v1h-2v1h-3v3h-3v1h-3v1h-1v1h-3v2h-2v1h-1v1h-1v1h-1v1h-1v1h-1v2h-2v3h-4v1h-2v1h-1v1h-1v5h-4v1h-2v3h-1v2h-2v1h-1v1h-1v1h-1v4h-3v2h-3v3h-1v1h-1v1h-1v1h-1v2h-1v3h-2v1h-1v3h-2v2h-1v2h-1v2h-1v1h-1v2h-2v3h-1v1h-1v2h-2v1h-1v2h-1v1h-1v1h-1v1h-1v2h-1v2h-2v3h-1v2h-1v2h-1v2h-2v1h-1v3h-2v3h-1v1h-2v1h-1v2h-1v2h-2v3h-1v1h-2v2h-1v1h-1v2h-1v2h-1v3h-2v3h-2v2h-1v1h-1v2h-2v2h-1v1h-1v4h-2v1h-1v2h-2v3h-3v1h-1v1h-2v1h-1v1h-2v2h-3v2h-2v2h-1v1h-1v1h-3v2h-3v1h-1v1h-1v1h-2v1h-1v1h-2v2h-2v1h-1v2h-5v1h-4v3h-4v-1h-1v1h-2v1h-4v2h-3v-1h-1v1h-2v2h-3v-1h-1v-1h-1v2h-6v1h-5v1h-3v-2h-2v1h-11v-2h-1v1h-1v1h-6v-1h-3v1h-5v-1h-1v1h-6v-1h-2v1h-3v-1h-3v-1h-2v1h-9v-1h-5v1h-1v-1h-3v2h-4z"/>
<path fill="#ff0000" d="M145 804h2v-1h1v-3h3v3h2v1h2v-2h3v2h3v-5h3v4h3v1h2v-1h2v-1h1v1h1v2h1v-1h1v-2h2v-1h3v-5h3v6h2v-2h4v-3h4v1h3v-2h3v1h1v-5h2v-1h2v-1h4v-4h3v-5h3v2h4v-4h1v-1h3v-8h3v-1h2v-1h2v-6h2v-1h1v-4h2v-1h1v-1h2v-5h3v-2h1v-5h3v-3h1v-2h1v-4h3v1h1v-7h1v-4h3v-3h2v-1h1v-1h1v-2h1v-3h1v-2h2v-7h1v-1h1v-2h1v-2h1v-5h2v-3h2v-5h2v-1h1v-1h1v-4h2v-5h3v-6h2v-6h2v-3h1v-4h1v-3h2v-1h1v-8h2v-1h1v-6h1v-2h1v-1h1v-3h2v-6h3v-2h1v-4h1v-3h3v-3h1v-5h2v-2h2v-1h2v-6h2v-3h3v1h1v-4h2v-4h2v-1h3v-1h1v-6h6v-2h1v-1h3v-1h1v-4h3v-1h3v-1h1v-1h3v-4h2v-5h3v11h3v-2h3v1h2v-3h3v7h1v-2h3v4h1v2h3v1h1v-2h3v6h1v6h1v1h2v-2h3v2h1v3h4v-1h3v10h1v-1h3v7h1v3h1v1h1v-1h3v3h1v1h1v1h1v3h1v2h3v11h3v2h1v2h2v4h3v6h2v-3h3v10h2v4h3v2h3v8h2v-1h3v6h1v1h1v1h2v6h1v3h3v5h6v7h1v-5h3v8h2v1h3v2h1v3h1v1h2v1h1v1h3v3h1v-1h3v2h1v1h3v1h2v-4h3v9h1v1h1v-2h3v-2h3v4h2v2h4v-4h3v4h3v1h1v1h2v1h2v-2h2v-1h3v1h1v2h1v1h2v-4h3v3h2v-5h1v-2h3v6h1v2h1v-3h2v-1h3v4h1v-7h1v-1h1v-1h3v9h1v-5h3v-4h3v8h2v-2h1v-3h1v-4h3v1h2v3h1v-1h2v-3h3v5h1v-8h3v1h3v4h1v-3h3v3h1v-1h3v2h1v-6h1v-4h3v3h3v1h1v-2h3v1h1v-2h3v-1h3v2h2v-3h1v-3h3v1h1v-1h2v-2h2v-1h5v-1h1v-2h1v-2h3v1h4v3h1v-4h2v-2h3v3h1v-4h2v-2h2v-4h3v6h1v-8h3v3h1v-1h2v-3h2v-3h1v-3h3v1h1v4h1v1h1v-4h1v-1h3v2h1v-3h1v-1h4v-2h1v-1h3v-1h3v1h1v-1h4v-1h1v-3h3v1h1v-2h3v-4h1v-1h3v2h1v1h1v-1h1v-1h1v-3h2v-1h3v-1h1v-1h1v-3h1v-3h3v1h2v2h1v-2h2v-2h3v-3h3v-2h1v-5h3v3h2v-2h4v2h1v-5h3v-1h2v-1h1v-1h3v4h1v-2h1v-1h2v-4h3v-1h1v-2h1v-3h3v1h2v2h3v-7h6v-3h3v2h1v1h1v-1h4v1h3v2h1v-3h1v-1h1v-4h3v3h3v3h2v-2h2v-1h3v-2h3v4h1v-1h1v-1h3v3h1v-5h3v4h4v2h1v-1h1v-3h3v3h2v1h2v-3h3v4h1v1h3v4h1v1h2v-6h3v1h3v5h2v1h1v3h2v1h1v1h2v1h3v1h1v2h1v-3h3v11h1v2h1v1h1v1h1v1h1v-2h5v6h2v-3h3v7h6v4h1v2h3v1h1v1h1v2h2v2h2v4h4v2h2v6h1v-4h3v3h1v8h1v-2h3v2h3v5h1v1h2v-2h3v2h2v1h1v1h2v5h2v5h1v-3h3v2h2v6h2v-2h3v3h2v5h3v4h2v1h2v3h2v-1h3v3h4v1h2v2h1v3h1v-2h3v1h2v4h3v3h2v1h1v1h2v1h3v1h2v-1h3v2h3v2h1v4h1v-1h1v-1h3v4h1v-1h3v5h1v-1h2v-4h3v4h2v2h1v-3h3v1h3v4h1v1h1v-2h2v-4h3v3h2v5h1v-1h3v1h2v5h3v-6h3v4h1v1h1v1h3v2h3v-4h3v2h3v3h1v1h2v-1h3v-3h3v2h1v3h8v3h1v-3h1v-2h3v3h1v-1h5v-3h3v7h2v-1h4v3h4v-2h4v-3h3v1h3v1h2v3h4v1h2v1h1v-1h5v-3h2v-1h3v5h3v-3h3v6h2v-2h2v-2h4v3h1v-4h3v5h2v-1h3v1h1v-2h3v-1h3v4h2v-2h3v2h2v-1h3v-1h1v-3h6v4h2v1h1v-2h1v-2h3v3h3v-1h3v6h1v-3h2v-5h3v2h2v1h3v2h2v-2h2v-1h1v-2h3v3h2v6h1v-5h3v6h2v-3h2v-1h1v-2h3v1h1v-4h3v2h1v4h1v-7h3v3h2v-4h2v-1h3v1h1v3h3v2h3v1h1v2h1v-1h3v1h1v-1h1v-2h3v-1h2v-2h3v5h2v-2h5v-1h3v-3h3v4h4v2h2v-3h3v4h1v1h2v-2h3v2h1v1h1v-7h3v5h2v2h1v-5h3v3h2v1h1v-4h5v3h2v2h1v-1h1v-1h6v-3h1v-1h3v6h1v1h2v-1h3v-4h3v2h4v3h1v-2h1v-3h3v2h2v2h1v-4h3v1h1v2h1v1h2v-2h3v1h1v12h-3v-1h-1v4h-5v-1h-2v-1h-2v-2h-1v1h-1v1h-1v2h-3v-3h-4v-3h-1v8h-1v1h-3v-3h-3v-4h-2v1h-2v1h-3v2h-3v-3h-3v1h-3v-1h-1v2h-5v-2h-2v4h-3v-1h-1v4h-3v-4h-1v-1h-1v1h-5v-4h-1v4h-3v-2h-4v5h-3v-3h-5v2h-3v-2h-1v-4h-1v2h-3v-2h-2v-2h-1v4h-2v1h-3v-1h-8v-3h-1v-1h-2v-1h-1v2h-1v1h-1v3h-4v-1h-3v-3h-2v-2h-1v2h-1v6h-3v-2h-2v-5h-2v4h-3v-2h-1v1h-2v1h-2v2h-3v-3h-2v2h-3v-1h-3v-2h-3v3h-3v-3h-1v1h-3v-1h-5v-2h-6v3h-3v-3h-3v2h-2v2h-3v-4h-1v1h-2v1h-3v-2h-2v-1h-1v1h-3v-1h-4v-1h-1v3h-3v-4h-1v3h-7v-1h-1v2h-3v-3h-1v4h-3v-2h-3v-3h-1v2h-1v2h-3v-7h-4v1h-5v-1h-1v-1h-1v2h-3v-1h-1v1h-3v-1h-2v-2h-1v7h-3v-4h-1v-1h-2v2h-3v-2h-5v1h-1v-1h-4v-2h-2v1h-2v4h-3v-7h-3v-4h-1v-2h-1v5h-3v-2h-2v5h-3v-2h-1v-3h-1v-1h-1v1h-1v-1h-2v2h-1v1h-6v-2h-4v-4h-1v2h-3v3h-3v-5h-3v-2h-1v-2h-1v-2h-1v2h-2v1h-3v-1h-1v2h-3v-1h-1v-4h-4v2h-2v2h-3v-3h-2v-3h-2v2h-3v-3h-3v-3h-1v-1h-5v-1h-1v-3h-1v-3h-1v-1h-4v2h-4v-2h-3v-4h-2v6h-3v-3h-1v-6h-2v-1h-3v-2h-4v-1h-3v-6h-1v1h-3v-3h-1v-1h-3v-1h-1v-2h-3v-4h-4v-1h-2v-3h-3v-4h-2v-2h-1v-1h-1v-3h-2v-1h-3v3h-3v-7h-2v-1h-1v-3h-2v-1h-2v-2h-6v-6h-1v4h-3v-3h-3v-3h-1v-1h-1v-3h-3v-10h-3v-1h-3v1h-3v-6h-2v-2h-4v-4h-3v-2h-2v-4h-2v8h-3v-8h-1v-1h-1v-2h-1v-2h-3v-1h-1v-6h-1v1h-4v-5h-1v2h-3v-4h-1v1h-3v-3h-4v-4h-3v-2h-3v-1h-3v1h-3v-1h-3v-4h-2v-1h-4v14h-3v-10h-1v-4h-6v-1h-1v1h-3v-3h-3v-2h-2v1h-3v-2h-1v4h-3v-1h-1v1h-2v1h-2v2h-3v3h-3v-2h-2v-1h-3v-1h-3v1h-1v4h-5v2h-3v-2h-2v1h-1v1h-1v1h-3v3h-3v-1h-1v3h-2v6h-3v-3h-1v-1h-2v3h-1v2h-3v-1h-2v-2h-1v2h-1v1h-1v1h-3v3h-1v1h-1v5h-3v2h-3v-3h-1v1h-3v2h-3v-3h-1v2h-3v-1h-1v3h-1v6h-3v-2h-2v-2h-1v2h-1v3h-2v1h-1v2h-1v1h-3v-2h-1v4h-3v5h-6v-1h-1v2h-3v-3h-1v2h-2v1h-1v11h-3v-10h-1v4h-5v-2h-2v5h-1v1h-3v-2h-1v1h-1v1h-1v-1h-1v5h-1v1h-2v2h-2v1h-3v-2h-2v2h-2v3h-1v1h-5v-5h-1v3h-1v5h-3v-2h-1v5h-3v-1h-6v2h-2v6h-3v-4h-4v5h-6v-2h-2v1h-1v3h-3v-3h-3v3h-3v-1h-1v1h-2v1h-1v1h-1v2h-4v3h-3v-4h-1v1h-1v10h-3v-11h-1v4h-2v3h-3v-4h-2v3h-1v2h-3v-3h-2v-1h-2v1h-3v-1h-1v3h-7v1h-3v1h-3v-3h-1v-1h-2v-1h-1v6h-3v1h-3v-4h-1v1h-2v-1h-1v-1h-2v2h-3v2h-3v-1h-1v-1h-1v2h-1v1h-3v-3h-1v-1h-2v2h-2v2h-3v-7h-1v3h-3v-1h-1v-1h-2v-2h-1v-3h-1v1h-1v-1h-3v-1h-2v3h-3v-3h-1v-1h-3v-2h-5v-5h-1v5h-3v-6h-1v-2h-2v-3h-1v6h-3v-6h-1v-3h-3v-3h-1v-2h-3v-5h-2v4h-3v-4h-1v-6h-1v-4h-1v-1h-2v-4h-3v-4h-1v-2h-1v-1h-1v-3h-2v-1h-2v-4h-1v-3h-2v-1h-2v-4h-3v-5h-2v-4h-1v-1h-1v-3h-4v-5h-1v-4h-2v-1h-3v-3h-2v-5h-1v-1h-1v-4h-1v-1h-2v-1h-1v-3h-1v1h-3v-5h-1v-4h-1v-1h-2v-2h-2v-1h-3v-1h-2v-2h-3v-5h-1v-2h-1v-4h-6v-4h-3v-4h-2v-2h-1v4h-3v-3h-1v1h-3v-6h-3v1h-1v3h-3v-4h-1v-1h-3v2h-2v2h-3v3h-1v1h-1v4h-6v3h-3v1h-1v6h-3v-3h-1v1h-2v7h-3v1h-1v1h-2v2h-2v2h-3v2h-1v1h-1v3h-2v4h-2v1h-1v5h-1v1h-1v1h-1v6h-2v6h-1v4h-2v5h-1v1h-2v1h-1v6h-2v3h-2v8h-3v4h-1v6h-3v2h-1v4h-1v1h-1v6h-3v1h-1v2h-1v6h-2v4h-3v-2h-1v4h-1v2h-1v5h-2v6h-2v3h-2v2h-1v9h-3v1h-2v4h-2v5h-1v1h-2v4h-1v2h-3v5h-2v5h-2v2h-2v1h-2v5h-3v1h-1v7h-3v3h-1v1h-4v3h-1v2h-1v2h-2v3h-3v1h-2v3h-1v2h-5v-1h-1v2h-1v3h-3v3h-3v2h-2v2h-3v-3h-2v3h-3v6h-3v-6h-1v2h-1v3h-3v-1h-2v2h-3v-1h-1v-1h-2v4h-3v-3h-1v1h-3v-3h-2v4h-4v1h-1v-1h-2v-5h-1v2h-3v1h-3v-1h-2v1h-1v2h-3z"/>
<path fill="#000000" d="M145 910h8v1h6v-1h5v2h1v-2h2v1h2v-1h1v1h7v1h8v-1h13v-2h5v2h4v1h4v-1h5v-3h5v1h6v-1h2v-1h1v-1h3v-1h1v-3h5v1h3v-1h2v-1h5v2h1v-2h1v-1h2v-2h1v1h1v-1h4v-2h2v-2h2v-1h2v-3h2v-2h4v-2h3v-5h4v-2h1v-1h1v-1h1v-2h1v1h1v-3h1v-1h2v-2h1v-1h1v-3h2v-3h2v-2h1v-2h1v1h1v-3h1v-1h1v-2h1v-2h1v-2h1v-2h1v-1h1v-5h3v-3h1v-1h1v-2h1v-1h1v-2h1v-1h1v-3h1v-2h1v-1h1v-2h1v-4h1v-3h2v-1h1v-2h1v-2h1v-2h1v-3h1v-1h1v-2h1v-1h1v-1h1v-3h1v-1h1v-2h2v-3h1v-1h1v-2h1v-1h1v-2h1v-4h2v-1h2v-3h1v-2h2v-2h1v-3h2v-2h1v-5h3v-4h3v-2h1v-2h1v-1h1v-2h2v-2h1v-1h1v-3h1v-1h2v-1h1v-3h2v-1h1v-4h4v-2h1v-3h2v-1h3v-3h3v-5h5v2h1v-2h1v1h1v-1h1v-3h6v1h2v-4h5v2h3v1h8v1h4v2h2v2h2v2h3v-1h5v4h4v2h1v1h2v2h1v2h2v1h1v1h2v1h3v3h4v5h2v3h2v1h2v3h1v-1h1v1h1v3h1v1h1v2h1v1h1v1h2v3h2v2h2v1h1v3h2v2h2v1h1v1h1v2h1v1h1v1h2v2h1v3h1v1h2v1h2v2h1v1h3v2h1v3h2v1h3v1h1v3h2v2h1v-1h1v2h1v1h3v2h1v1h1v2h3v2h4v2h4v3h3v1h4v2h1v-2h2v2h2v1h1v1h3v1h4v1h1v2h4v-1h1v1h6v1h3v-2h5v1h4v1h1v-2h5v1h13v-1h2v-1h3v-1h6v1h1v-1h5v-1h2v-2h6v-1h2v-1h5v-1h1v-1h5v-2h1v-2h5v3h2v-3h4v-1h3v-1h5v-3h4v-1h4v-1h1v-1h4v-1h2v-1h3v-2h3v-1h2v-1h2v-1h3v-1h2v-1h2v-2h1v-2h6v1h1v-1h1v-1h1v-2h1v1h2v-1h1v-1h1v-1h2v-2h1v-1h3v-1h2v-1h1v-1h1v-2h1v-1h1v-2h4v-1h3v-1h2v-2h1v1h3v-3h3v-2h5v-1h4v-1h1v-1h1v-1h3v-1h1v-1h2v-2h2v-1h4v-1h1v-2h1v1h1v-4h4v-1h2v-2h8v-2h2v-3h7v-2h2v-1h4v-3h5v1h1v-3h5v-2h5v-1h1v-2h5v1h1v-1h2v-4h5v2h1v-1h1v-2h5v-1h1v1h3v-1h10v-1h1v-2h1v1h4v1h3v-1h2v1h12v-1h1v2h1v-1h2v-2h2v2h2v2h2v-1h5v1h3v1h1v1h2v1h4v1h2v3h1v-2h5v4h3v2h2v2h4v2h2v1h1v2h2v2h1v1h4v2h1v-1h1v2h1v2h1v1h2v2h1v1h1v1h3v3h2v2h3v1h1v4h2v1h1v1h1v2h1v2h3v2h2v1h2v2h1v3h2v1h1v2h2v2h2v1h1v2h1v4h2v1h1v1h3v4h1v1h1v2h1v1h1v2h2v2h1v1h3v4h1v1h1v1h2v2h1v1h1v1h1v1h2v2h1v1h2v1h1v1h2v1h2v1h5v5h4v1h2v2h4v2h1v1h2v1h3v2h2v1h1v2h4v3h1v1h4v1h1v1h3v1h3v1h1v1h1v1h3v2h1v-1h1v2h1v1h1v1h3v-1h4v-1h1v2h1v2h1v1h5v3h1v1h3v1h4v2h3v-1h5v2h3v1h2v1h1v1h2v-1h3v2h2v-1h1v1h2v-1h2v1h1v-1h5v3h2v1h3v-1h4v-1h1v1h1v-1h1v2h1v1h6v1h5v-1h5v2h2v1h3v-1h2v1h2v1h3v1h1v-1h3v-1h6v-1h5v1h3v1h3v1h4v-1h1v1h1v1h2v1h3v1h1v-1h8v1h2v-1h1v1h4v-2h2v2h2v1h2v-2h1v1h4v2h2v-1h5v1h1v-1h5v-2h5v2h3v1h3v1h4v-1h2v1h5v1h1v-2h7v1h16v3h1v-2h8v1h2v1h1v-1h1v1h3v-3h5v3h2v1h2v-2h5v1h1v1h3v1h1v-1h15v1h2v-1h9v1h2v-1h1v1h9v-1h1v1h2v1h1v8h-6v-1h-3v-1h-6v-1h-5v1h-13v-1h-2v1h-1v-1h-4v1h-6v-1h-4v1h-1v-1h-1v1h-1v-1h-9v-2h-1v1h-1v-1h-1v1h-2v2h-5v-2h-9v-1h-7v1h-1v-1h-4v-1h-3v2h-5v-2h-2v3h-5v-4h-1v2h-1v-1h-4v-1h-5v-1h-2v1h-5v-1h-1v-1h-3v1h-1v1h-5v-1h-4v-1h-1v1h-6v-1h-1v1h-5v-1h-1v-1h-6v-1h-5v2h-2v-2h-1v1h-5v-2h-3v-1h-3v-1h-1v2h-5v-2h-2v1h-5v-1h-4v-1h-1v2h-5v-2h-3v-1h-1v1h-2v-1h-1v-1h-2v2h-5v-1h-7v-1h-1v-1h-2v-1h-2v1h-5v-1h-1v-1h-5v-2h-2v1h-5v-1h-3v-1h-2v1h-5v-2h-1v-1h-3v-1h-8v-2h-2v-2h-1v1h-1v-1h-1v1h-5v-3h-2v-1h-3v-2h-3v1h-2v-2h-3v-1h-2v-2h-1v1h-5v-3h-2v-1h-4v-4h-4v-1h-2v-1h-2v-1h-2v-1h-3v-2h-2v-2h-1v-1h-3v-1h-1v-1h-2v-1h-1v-3h-4v-1h-3v-2h-3v-3h-3v-2h-1v-2h-3v1h-1v-2h-1v-1h-3v-1h-1v-2h-1v-2h-2v-2h-3v-1h-2v-2h-1v-1h-1v-2h-2v-2h-3v-3h-2v-4h-1v-2h-1v-1h-1v-1h-1v-2h-2v-2h-1v-2h-3v-4h-3v-2h-1v-2h-1v-1h-3v-3h-1v-2h-3v-2h-2v-2h-2v-3h-1v-1h-1v-3h-3v-2h-1v-1h-1v-1h-1v1h-1v-2h-1v-2h-4v-2h-3v-5h-2v-1h-3v-2h-1v-2h-1v-1h-1v1h-1v-1h-2v-2h-2v-2h-1v-2h-3v-1h-3v-1h-1v-2h-2v-2h-2v-1h-6v-1h-3v-1h-2v1h-2v-2h-2v-3h-2v1h-4v1h-5v-3h-2v1h-2v1h-5v-2h-8v2h-1v-1h-4v1h-5v-1h-2v1h-1v-1h-1v1h-1v-1h-5v1h-3v1h-1v2h-2v1h-2v2h-2v-2h-2v-1h-2v1h-1v1h-4v2h-2v1h-5v1h-2v1h-2v1h-2v2h-3v1h-1v-1h-3v3h-1v1h-4v4h-5v-2h-1v3h-5v2h-3v1h-1v1h-4v1h-2v1h-2v2h-2v1h-2v2h-2v1h-1v1h-4v2h-3v2h-1v1h-8v1h-1v2h-1v-1h-1v1h-2v1h-2v1h-2v1h-1v1h-2v1h-2v1h-1v4h-6v3h-4v2h-2v1h-2v1h-1v1h-1v2h-2v2h-5v-1h-1v2h-2v1h-3v3h-5v-1h-1v1h-1v2h-5v1h-2v1h-3v2h-2v1h-1v-1h-2v1h-1v1h-2v1h-1v1h-3v2h-3v3h-5v-2h-1v1h-3v1h-2v1h-3v2h-4v1h-2v2h-6v1h-5v1h-4v1h-1v1h-7v1h-4v3h-4v1h-5v-2h-3v1h-3v1h-1v-1h-2v1h-5v1h-1v-1h-1v1h-5v1h-2v-1h-1v1h-1v2h-5v-2h-1v-2h-1v1h-2v-1h-3v1h-1v2h-5v-3h-1v-1h-6v-1h-1v-1h-7v-1h-1v-1h-1v-2h-1v-1h-5v-1h-1v-1h-1v-1h-2v-1h-4v-1h-5v-3h-2v-1h-2v-3h-1v-1h-2v-1h-3v-2h-1v-1h-1v-1h-1v-1h-3v-3h-2v-1h-1v-4h-3v-1h-1v-1h-1v-2h-1v1h-1v-2h-1v-2h-2v-1h-1v-3h-3v-2h-1v-1h-2v-3h-2v-2h-2v-1h-1v-2h-1v-2h-3v-1h-2v-1h-1v-5h-2v-2h-2v-3h-1v-1h-1v-1h-1v-1h-1v-1h-1v-2h-1v-1h-2v-2h-4v-3h-1v-3h-1v-1h-2v-1h-1v-2h-4v-2h-2v-1h-1v1h-1v-1h-2v-2h-2v-2h-1v-1h-4v-1h-2v-1h-1v-1h-1v-1h-1v-1h-6v-3h-3v1h-7v-1h-2v3h-5v-2h-1v2h-3v4h-2v2h-1v-1h-4v2h-1v1h-1v2h-1v-1h-2v1h-1v3h-2v1h-1v1h-1v3h-2v1h-1v2h-2v2h-1v2h-1v1h-1v2h-2v2h-1v2h-2v2h-1v2h-2v3h-1v3h-3v1h-1v4h-2v3h-1v1h-1v3h-1v1h-1v2h-1v1h-1v1h-2v3h-1v2h-1v3h-1v1h-2v2h-1v2h-1v2h-1v2h-1v1h-1v3h-2v3h-1v2h-2v2h-1v4h-2v2h-2v3h-1v4h-2v2h-1v1h-1v4h-1v1h-1v1h-1v2h-1v2h-1v3h-2v2h-1v2h-1v1h-1v2h-2v4h-2v2h-1v4h-1v3h-1v1h-2v3h-2v1h-2v2h-1v4h-3v3h-1v1h-2v3h-3v4h-4v1h-1v1h-1v2h-2v4h-6v1h-1v4h-2v1h-1v1h-2v1h-2v2h-5v1h-3v1h-2v1h-8v1h-1v-1h-1v2h-1v2h-1v-1h-4v-1h-2v1h-1v3h-4v1h-3v3h-5v-1h-4v1h-5v-3h-1v1h-1v1h-7v1h-5v-1h-1v1h-5v-1h-2v2h-5v-1h-2v1h-5v-1h-2v1h-1v-1h-9v-1h-1v1h-5v-1h-1v1h-5v-2h-7z"/>
</g>
<g font-size="55" shape-rendering="auto">
<text x="145.5" y="1008" text-anchor="middle">100</text>
<text x="312.1" y="1008" text-anchor="middle">200</text>
<text x="478.8" y="1008" text-anchor="middle">300</text>
<text x="645.4" y="1008" text-anchor="middle">400</text>
<text x="812.1" y="1008" text-anchor="middle">500</text>
<text x="978.7" y="1008" text-anchor="middle">600</text>
<text x="1145.3" y="1008" text-anchor="middle">700</text>
<text x="1312.0" y="1008" text-anchor="middle">800</text>
<text x="526" y="1076" font-size="55">Temperature</text>
<text x="841.3" y="1076" font-size="55">(</text>
<text x="859" y="1045.6" font-size="32">o</text>
<text x="874.3" y="1076" font-size="55">C)</text>
<text transform="translate(58,651) rotate(-90)" x="0" y="0" font-size="55" letter-spacing="-0.25">Intensity(a.u.)</text>
</g>
<g font-size="46">
<text transform="translate(1204.10,227.9) scale(0.94,1)">S</text><rect x="1228.4" y="215.0" width="11" height="3.8" fill="#000"/><text transform="translate(1241.02,227.9) scale(0.94,1)">6</text>
<text transform="translate(1204.10,365.9) scale(0.94,1)">S</text><rect x="1228.4" y="353.0" width="11" height="3.8" fill="#000"/><text transform="translate(1240.77,365.9) scale(0.94,1)">5</text>
<text transform="translate(1204.10,493.9) scale(0.94,1)">S</text><rect x="1228.4" y="481.0" width="11" height="3.8" fill="#000"/><text transform="translate(1241.91,493.9) scale(0.94,1)">4</text>
<text transform="translate(1204.10,605.9) scale(0.94,1)">S</text><rect x="1228.4" y="593.0" width="11" height="3.8" fill="#000"/><text transform="translate(1240.87,605.9) scale(0.94,1)">3</text>
<text transform="translate(1204.10,779.9) scale(0.94,1)">S</text><rect x="1228.4" y="767.0" width="11" height="3.8" fill="#000"/><text transform="translate(1240.68,779.9) scale(0.94,1)">2</text>
<text transform="translate(1204.10,882.9) scale(0.94,1)">S</text><rect x="1228.4" y="870.0" width="11" height="3.8" fill="#000"/><text transform="translate(1239.04,882.9) scale(0.94,1)">1</text>
</g>
</svg>
</body></html>
